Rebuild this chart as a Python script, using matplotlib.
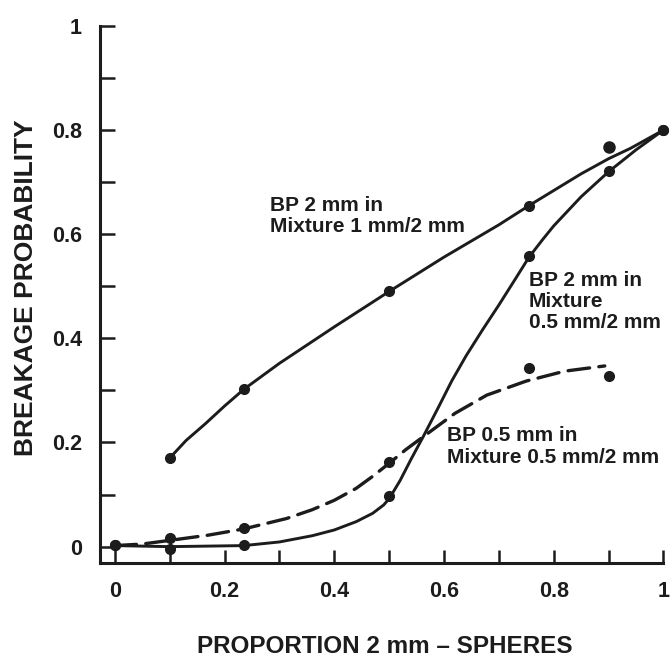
import numpy as np
import matplotlib.pyplot as plt

plt.rcParams['font.family'] = ['Liberation Sans', 'DejaVu Sans']
plt.rcParams['font.weight'] = 'bold'

ink = '#1c1c1c'

# measured points
x_pts = [0.0, 0.1, 0.235, 0.5, 0.755, 0.9, 1.0]
bp2_mix1 = [None, 0.17, 0.302, 0.49, 0.655, None, 0.80]
bp2_mix05 = [0.003, -0.004, 0.003, 0.097, 0.558, 0.722, 0.80]
bp05_mix05 = [0.003, 0.016, 0.035, 0.163, 0.343, 0.328, None]
extra_x = [0.9]
extra_y = [0.768]

# curves as drawn in the original
c1_x = [0.1, 0.13, 0.165, 0.2, 0.235, 0.3, 0.4, 0.5, 0.6, 0.7, 0.755, 0.85, 0.9, 0.94, 1.0]
c1_y = [0.17, 0.204, 0.236, 0.27, 0.302, 0.352, 0.422, 0.49, 0.556, 0.618, 0.655, 0.716, 0.745, 0.765, 0.80]

c2_x = [0.0, 0.1, 0.235, 0.3, 0.36, 0.4, 0.44, 0.47, 0.49, 0.5, 0.52, 0.54, 0.562, 0.59, 0.614,
        0.64, 0.67, 0.7, 0.73, 0.755, 0.78, 0.8, 0.85, 0.9, 0.95, 1.0]
c2_y = [0.002, 0.0, 0.002, 0.009, 0.021, 0.032, 0.048, 0.064, 0.08, 0.092, 0.127, 0.168, 0.211, 0.268,
        0.318, 0.366, 0.416, 0.464, 0.514, 0.556, 0.59, 0.616, 0.672, 0.72, 0.762, 0.80]

c3_x = [0.0, 0.05, 0.1, 0.17, 0.235, 0.313, 0.36, 0.4, 0.44, 0.47, 0.5, 0.53, 0.562, 0.62, 0.678,
        0.75, 0.82, 0.893]
c3_y = [0.002, 0.005, 0.012, 0.022, 0.034, 0.054, 0.071, 0.089, 0.112, 0.135, 0.16, 0.186, 0.211,
        0.256, 0.291, 0.318, 0.337, 0.347]

xticks = [0, 0.2, 0.4, 0.6, 0.8, 1]
yticks = [0, 0.2, 0.4, 0.6, 0.8, 1]
xlabels = ['0', '0.2', '0.4', '0.6', '0.8', '1']
ylabels = ['0', '0.2', '0.4', '0.6', '0.8', '1']

fig = plt.figure(figsize=(6.72, 6.61), dpi=100)
ax = fig.add_axes([0.1488, 0.1478, 0.8385, 0.813])

ax.plot(c1_x, c1_y, color=ink, lw=2.1, solid_capstyle='round', solid_joinstyle='round', clip_on=False)
ax.plot(c2_x, c2_y, color=ink, lw=2.1, solid_capstyle='round', solid_joinstyle='round', clip_on=False)
ax.plot(c3_x, c3_y, color=ink, lw=2.4, dashes=(6.5, 2.8), dash_capstyle='round', clip_on=False)

for series in [bp2_mix1, bp2_mix05, bp05_mix05]:
    xs = [x for x, y in zip(x_pts, series) if y is not None]
    ys = [y for y in series if y is not None]
    ax.plot(xs, ys, 'o', color=ink, ms=7, clip_on=False)
ax.plot(extra_x, extra_y, 'o', color=ink, ms=8, clip_on=False)

ax.set_xlim(-0.027, 1.0)
ax.set_ylim(-0.032, 1.0)

ax.spines['top'].set_visible(False)
ax.spines['right'].set_visible(False)
for s in ['left', 'bottom']:
    ax.spines[s].set_linewidth(2.2)
    ax.spines[s].set_color(ink)

ax.set_xticks(xticks)
ax.set_xticklabels(xlabels)
ax.set_yticks(yticks)
ax.set_yticklabels(ylabels)
ax.set_xticks(np.arange(0.1, 1.0, 0.2), minor=True)
ax.set_yticks(np.arange(0.1, 1.0, 0.2), minor=True)
ax.tick_params(axis='x', which='both', direction='in', length=9.5, width=1.8, color=ink,
               labelsize=15.5, pad=13, labelcolor=ink)
ax.tick_params(axis='y', which='both', direction='in', length=11, width=1.8, color=ink,
               labelsize=15.5, pad=13, labelcolor=ink)

ax.set_xlabel('PROPORTION 2 mm \u2013 SPHERES', fontsize=17.5, fontweight='bold', color=ink, va='top')
ax.xaxis.set_label_coords(0.506, -0.133)
ax.set_ylabel('BREAKAGE PROBABILITY', fontsize=19, fontweight='bold', color=ink)
ax.yaxis.set_label_coords(-0.11, 0.512)

ax.text(0.283, 0.656, 'BP 2 mm in', fontsize=15, color=ink, va='center', ha='left')
ax.text(0.283, 0.614, 'Mixture 1 mm/2 mm', fontsize=15, color=ink, va='center', ha='left')
ax.text(0.755, 0.512, 'BP 2 mm in', fontsize=15, color=ink, va='center', ha='left')
ax.text(0.755, 0.471, 'Mixture', fontsize=15, color=ink, va='center', ha='left')
ax.text(0.755, 0.431, '0.5 mm/2 mm', fontsize=15, color=ink, va='center', ha='left')
ax.text(0.605, 0.214, 'BP 0.5 mm in', fontsize=15, color=ink, va='center', ha='left')
ax.text(0.605, 0.172, 'Mixture 0.5 mm/2 mm', fontsize=15, color=ink, va='center', ha='left')

fig.savefig('out.png', dpi=100)
